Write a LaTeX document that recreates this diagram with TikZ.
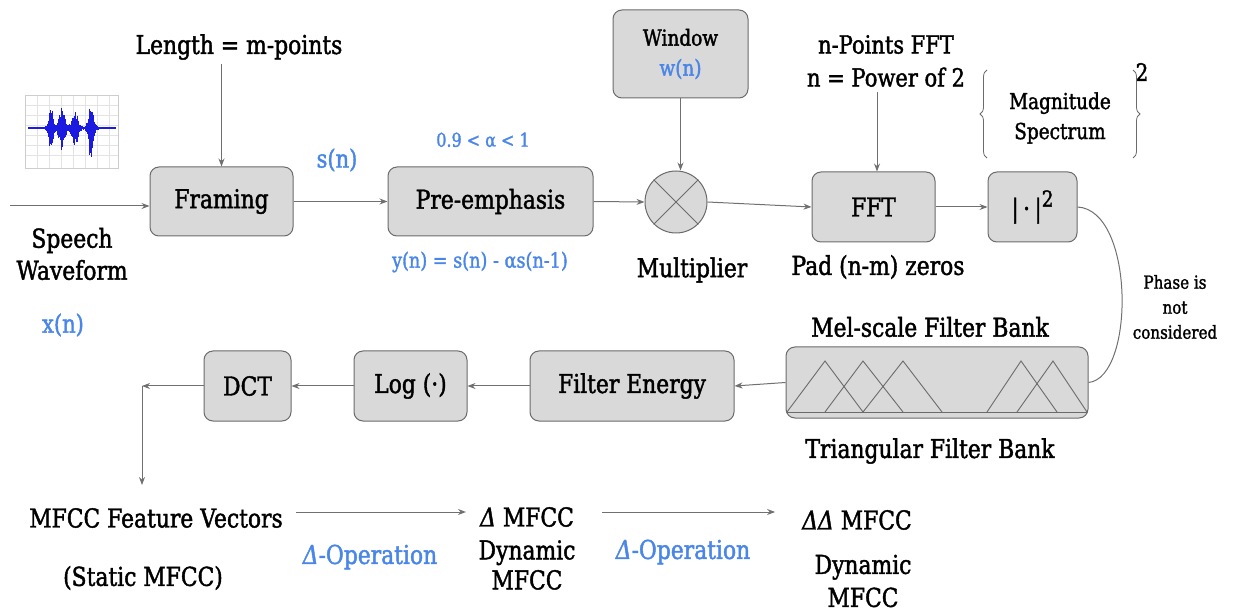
\documentclass[tikz,border=0pt]{standalone}
\usepackage{fontspec}
\setmainfont{DejaVu Serif}[FakeStretch=0.84,
  UprightFeatures={FakeBold=1.6}, ItalicFeatures={FakeBold=1.6}]
\usetikzlibrary{arrows.meta,decorations.pathreplacing,calc}
\definecolor{boxfill}{HTML}{D9D9D9}
\definecolor{boxline}{HTML}{6B6B6B}
\definecolor{linkc}{HTML}{707070}
\definecolor{note}{HTML}{4A86E8}
\definecolor{wave}{HTML}{1A1AE0}
\newcommand{\fs}[1]{\fontsize{#1}{#1}\selectfont}
\begin{document}
\begin{tikzpicture}[x=1pt,y=-1pt,
  block/.style={draw=boxline, fill=boxfill, rounded corners=9pt, line width=1pt,
                inner sep=0pt, align=center, font=\fs{26}},
  link/.style={draw=linkc, line width=1pt, -{Stealth[length=8pt,width=6pt]}},
  lbl/.style={inner sep=0pt, align=center, font=\fs{26}, text=black},
  bluelbl/.style={inner sep=0pt, align=center, text=note, font=\fs{24}},
  filt/.style={draw=boxline, line width=0.9pt},
]
\useasboundingbox (0,0) rectangle (1235,612);

% ---- speech waveform thumbnail ----
\begin{scope}
  \fill[white] (25,95) rectangle (118,168);
  \foreach \gx in {37,49,61,73,85,97,109}
    \draw[gray!22, line width=0.4pt] (\gx,95) -- (\gx,168);
  \foreach \gy in {105,115,125,135,145,155}
    \draw[gray!22, line width=0.4pt] (25,\gy) -- (118,\gy);
  \draw[gray!40, line width=0.5pt] (25,95) rectangle (118,168);
  \draw[wave, line width=1.4pt] (28,128) -- (116,128);
  \pgfmathsetseed{7}
  \foreach \x in {45,45.8,...,99}{
    \pgfmathsetmacro{\env}{24*exp(-((\x-51)/2.6)^2)+19*exp(-((\x-62)/3.8)^2)
      +16*exp(-((\x-75)/3.8)^2)+27*exp(-((\x-91)/3.2)^2)+1.5}
    \pgfmathsetmacro{\hu}{\env*(0.55+0.45*rnd)}
    \pgfmathsetmacro{\hd}{\env*(0.6+0.5*rnd)}
    \draw[wave, line width=0.9pt] (\x,128-\hu) -- (\x,128+\hd);
  }
\end{scope}

% ---- upper processing chain ----
\node[block, minimum width=143pt, minimum height=69pt] (framing) at (221.5,201.5) {Framing};
\node[block, minimum width=205pt, minimum height=69pt] (pre) at (490.5,201.5) {Pre-emphasis};
\node[block, minimum width=135pt, minimum height=88pt] (window) at (680.5,54)
  {{\fs{22}Window}\\[4pt]{\fs{22}\color{note}w(n)}};
\node[draw=boxline, fill=boxfill, circle, line width=1pt, minimum size=62pt, inner sep=0pt] (mul) at (676,202) {};
\draw[boxline, line width=1pt] (mul.north west) -- (mul.south east);
\draw[boxline, line width=1pt] (mul.north east) -- (mul.south west);
\node[block, minimum width=123pt, minimum height=70pt] (fft) at (873.5,207) {FFT};
\node[block, minimum width=89pt, minimum height=70pt] (mag) at (1032.5,207)
  {|\,·\,|\raisebox{11pt}{\fs{22}2}};

% ---- lower processing chain ----
\node[block, minimum width=302pt, minimum height=71pt] (mel) at (937,382.5) {};
\node[block, minimum width=204pt, minimum height=70pt] (energy) at (632,386) {Filter Energy};
\node[block, minimum width=113pt, minimum height=70pt] (log) at (410.5,386) {Log (·)};
\node[block, minimum width=87pt, minimum height=70pt] (dct) at (247.5,386) {DCT};

% triangular filters inside the mel bank
\draw[filt] (787,412) -- (1087,412);
\draw[filt] (787,412) -- (825,361) -- (863,412);
\draw[filt] (825,412) -- (863,361) -- (903,412);
\draw[filt] (863,412) -- (903,361) -- (942,412);
\draw[filt] (987,412) -- (1021,361) -- (1057,412);
\draw[filt] (1017,412) -- (1053,361) -- (1087,412);

% ---- labels ----
\node[lbl] (len) at (239,47) {Length = m-points};
\node[bluelbl, font=\fs{25}] (sn) at (337,160) {s(n)};
\node[bluelbl, font=\fs{19}] (alpha) at (483,140) {0.9 < α < 1};
\node[bluelbl, font=\fs{21}] (yn) at (480,262) {y(n) = s(n) - αs(n-1)};
\node[lbl] (speech) at (72,254) {Speech\\[6pt]Waveform};
\node[bluelbl, font=\fs{25}] (xn) at (63,325) {x(n)};
\node[lbl] (multl) at (692,270) {Multiplier};
\node[lbl, font=\fs{25}] (npts) at (886,61) {n-Points FFT\\[8pt]n = Power of 2};
\node[lbl, font=\fs{22}] (magspec) at (1060,118) {Magnitude\\[8pt]Spectrum};
\node[lbl, font=\fs{24}] (sq) at (1142,72) {2};
\node[lbl] (pad) at (878,267) {Pad (n-m) zeros};
\node[lbl, font=\fs{18}] (phase) at (1175,307) {Phase is\\[7pt]not\\[7pt]considered};
\node[lbl] (mell) at (930,327) {Mel-scale Filter Bank};
\node[lbl] (tril) at (930,451) {Triangular Filter Bank};

\node[lbl] (mfcc) at (156,518) {MFCC Feature Vectors};
\node[lbl] (static) at (143,578) {(Static MFCC)};
\node[bluelbl, font=\fs{26}] (op1) at (370,557) {\textit{Δ}-Operation};
\node[lbl] (d1) at (527,517) {\textit{Δ} MFCC};
\node[lbl] (dyn1) at (527,565) {Dynamic\\[4pt]MFCC};
\node[bluelbl, font=\fs{26}] (op2) at (683,552) {\textit{Δ}-Operation};
\node[lbl] (d2) at (857,520) {\textit{ΔΔ} MFCC};
\node[lbl] (dyn2) at (863,581) {Dynamic\\[7pt]MFCC};

% magnitude braces
\draw[boxline, line width=0.8pt, decorate, decoration={brace, amplitude=7pt}] (987,158) -- (987,70);
\draw[boxline, line width=0.8pt, decorate, decoration={brace, amplitude=7pt}] (1133,70) -- (1133,158);

% ---- connectors ----
\coordinate (src) at (10,206);
\draw[link] (src) -- (src -| framing.west);
\draw[link, shorten <=4pt] (len.south -| framing.north) -- (framing.north);
\draw[link] (framing.east) -- (pre.west);
\draw[link] (pre.east) -- (mul.west);
\draw[link] (window.south) -- (window.south |- mul.north);
\draw[link] (mul.east) -- (fft.west);
\draw[link, shorten <=5pt] (npts.south -| 877,0) -- (fft.north -| 877,0);
\draw[link] (fft.east) -- (mag.west);
\draw[linkc, line width=1pt] (mag.east) .. controls (1135,210) and (1135,378) .. (mel.east);
\draw[link] (mel.west) -- (energy.east);
\draw[link] (energy.west) -- (log.east);
\draw[link] (log.west) -- (dct.east);
\coordinate (turn) at (142,386);
\coordinate (down) at (142,485);
\draw[link] (dct.west) -- (turn);
\draw[link] (turn) -- (down);
\draw[link] ([xshift=13pt,yshift=6pt]mfcc.east) -- ([xshift=-14pt,yshift=5pt]d1.west);
\draw[link] ([xshift=28pt,yshift=5pt]d1.east) -- ([xshift=-27pt,yshift=8pt]d2.west);
\end{tikzpicture}
\end{document}
